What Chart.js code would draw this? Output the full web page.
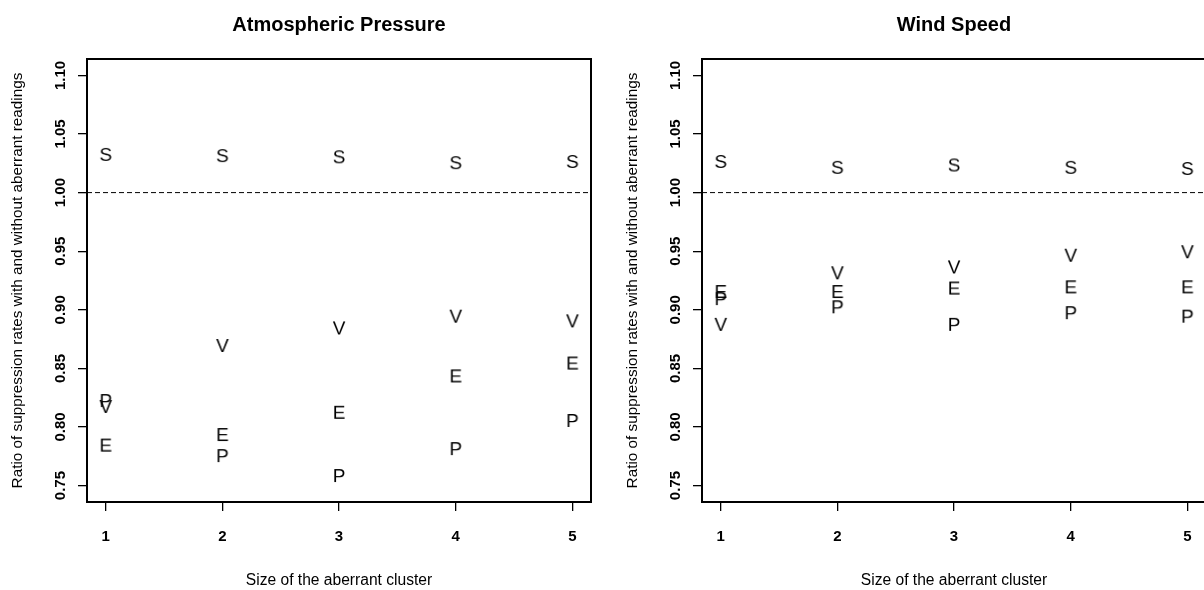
<!DOCTYPE html>
<html>
<head>
<meta charset="utf-8">
<script src="https://cdn.jsdelivr.net/npm/chart.js@4.4.1/dist/chart.umd.min.js"></script>
<style>
  html, body { margin: 0; padding: 0; background: #fff; overflow: hidden; width: 1204px; height: 590px; }
  canvas { position: absolute; top: 0; }
  #c1 { left: 0; }
  #c2 { left: 615px; }
</style>
</head>
<body>
<canvas id="c1" width="602" height="590"></canvas>
<canvas id="c2" width="602" height="590"></canvas>
<script>
// ---- data ----
const clusterSizes = [1, 2, 3, 4, 5];
const yTickValues = [0.75, 0.80, 0.85, 0.90, 0.95, 1.00, 1.05, 1.10];
const referenceLine = 1.0;
const panelTitles = ['Atmospheric Pressure', 'Wind Speed'];
const seriesLetters = ['S', 'V', 'E', 'P'];
const xAxisLabel = 'Size of the aberrant cluster';
const yAxisLabel = 'Ratio of suppression rates with and without aberrant readings';

// Atmospheric Pressure
const pressureS = [1.033, 1.032, 1.031, 1.026, 1.027];
const pressureV = [0.818, 0.870, 0.885, 0.895, 0.891];
const pressureE = [0.785, 0.794, 0.813, 0.844, 0.855];
const pressureP = [0.823, 0.776, 0.759, 0.782, 0.806];

// Wind Speed
const windS = [1.027, 1.022, 1.024, 1.022, 1.021];
const windV = [0.888, 0.932, 0.937, 0.947, 0.950];
const windE = [0.916, 0.916, 0.919, 0.920, 0.920];
const windP = [0.910, 0.903, 0.888, 0.898, 0.895];

// ---- styling ----
const FONT = '"Liberation Sans", Arial, Helvetica, sans-serif';
Chart.defaults.font.family = FONT;
Chart.defaults.color = '#000';

function letterCanvas(ch) {
  const size = 19;
  const c = document.createElement('canvas');
  c.width = 26; c.height = 26;
  const g = c.getContext('2d');
  g.fillStyle = '#000';
  g.font = size + 'px ' + FONT;
  g.textAlign = 'center';
  g.textBaseline = 'alphabetic';
  g.fillText(ch, 13, 13 + 0.716 * size / 2);
  return c;
}
const letterStyles = {};
seriesLetters.forEach(l => letterStyles[l] = letterCanvas(l));

const boxPlugin = {
  id: 'rbox',
  afterDraw(chart) {
    const {ctx, chartArea: a} = chart;
    ctx.save();
    ctx.strokeStyle = '#000';
    ctx.lineWidth = 2;
    ctx.strokeRect(Math.round(a.left), Math.round(a.top), Math.round(a.right - a.left), Math.round(a.bottom - a.top));
    ctx.restore();
  }
};

function makePanel(canvasId, title, series) {
  const datasets = seriesLetters.map((l, i) => ({
    label: l,
    data: clusterSizes.map((x, j) => ({x: x, y: series[i][j]})),
    pointStyle: letterStyles[l],
    pointRadius: 3,
    showLine: false
  }));
  datasets.push({
    type: 'line',
    label: 'ref',
    data: [{x: 0.84, y: referenceLine}, {x: 5.16, y: referenceLine}],
    borderColor: '#000',
    borderWidth: 1,
    borderDash: [5, 3],
    pointRadius: 0,
    fill: false
  });
  return new Chart(document.getElementById(canvasId), {
    type: 'scatter',
    data: { datasets },
    plugins: [boxPlugin],
    options: {
      responsive: false,
      animation: false,
      layout: { padding: { left: 0, right: 11, top: 0, bottom: 0 } },
      plugins: {
        legend: { display: false },
        tooltip: { enabled: false },
        title: {
          display: true,
          text: title,
          fullSize: false,
          font: { size: 20, weight: 'bold', family: FONT },
          color: '#000',
          padding: { top: 13, bottom: 22 }
        }
      },
      scales: {
        x: {
          type: 'linear',
          min: 0.84, max: 5.16,
          afterBuildTicks: s => { s.ticks = clusterSizes.map(v => ({value: v})); },
          afterFit: s => { s.height = 88; },
          grid: { drawOnChartArea: false, drawTicks: true, tickLength: 9, color: '#000', tickColor: '#000', lineWidth: 1.3 },
          border: { display: false },
          ticks: { autoSkip: false, maxRotation: 0, padding: 17, font: { size: 15, weight: 'bold' }, color: '#000',
                   callback: v => String(v) },
          title: { display: true, text: xAxisLabel, font: { size: 15.6 }, color: '#000', padding: { top: 0, bottom: 0 } }
        },
        y: {
          type: 'linear',
          min: 0.736, max: 1.114,
          afterBuildTicks: s => { s.ticks = yTickValues.map(v => ({value: v})); },
          afterFit: s => { s.width = 87; },
          grid: { drawOnChartArea: false, drawTicks: true, tickLength: 9, color: '#000', tickColor: '#000', lineWidth: 1.3 },
          border: { display: false },
          ticks: { autoSkip: false, minRotation: 90, maxRotation: 90, crossAlign: 'center', padding: 2.5,
                   font: { size: 15, weight: 'bold' }, color: '#000',
                   callback: v => v.toFixed(2) },
          title: { display: true, text: yAxisLabel, font: { size: 15.3 }, color: '#000', padding: { top: 9, bottom: 0 } }
        }
      }
    }
  });
}

makePanel('c1', panelTitles[0], [pressureS, pressureV, pressureE, pressureP]);
makePanel('c2', panelTitles[1], [windS, windV, windE, windP]);
</script>
</body>
</html>
